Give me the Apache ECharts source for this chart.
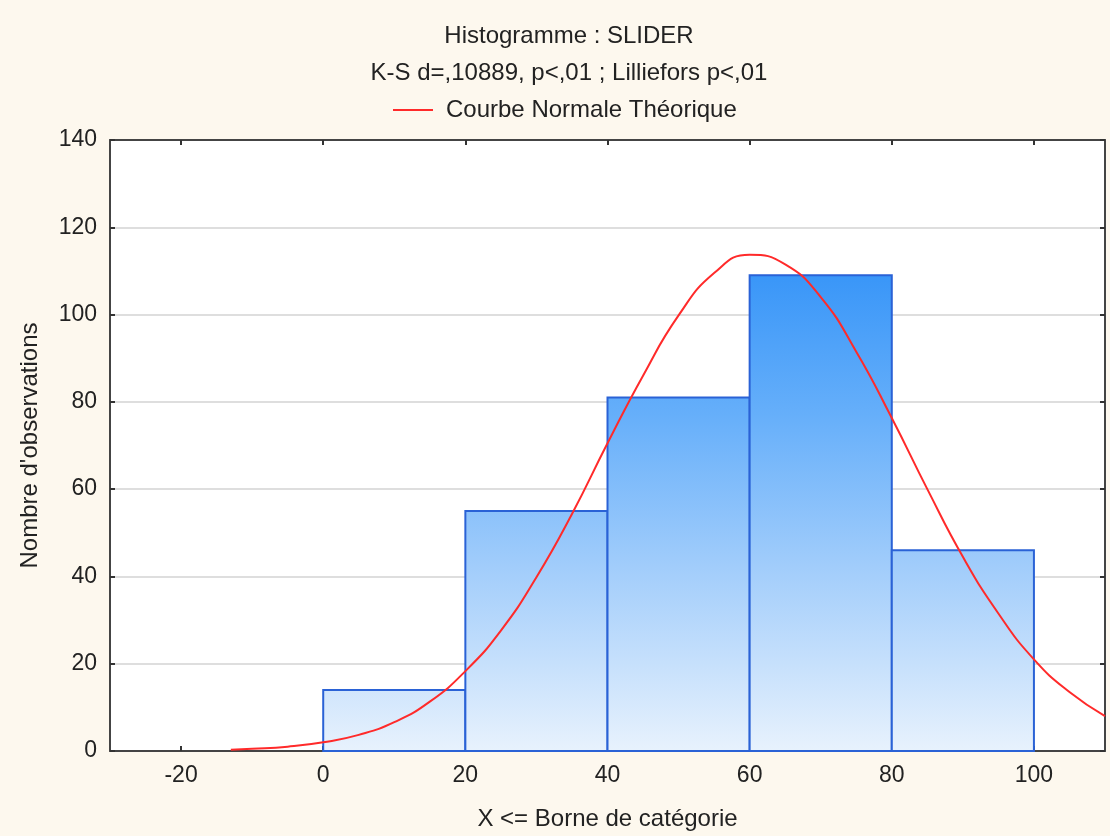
<!DOCTYPE html>
<html><head><meta charset="utf-8">
<script src="https://cdn.jsdelivr.net/npm/echarts@6/dist/echarts.min.js"></script>
<style>html,body{margin:0;padding:0;background:#fdf8ee;}#c{width:1110px;height:836px;}</style>
</head><body><div id="c"></div>
<script>
// Histogram bins (lower edge, upper edge) and counts
const binStart = [0, 20, 40, 60, 80];
const binEnd = [20, 40, 60, 80, 100];
const counts = [14, 55, 81, 109, 46];
// Theoretical normal curve
const curveX = [-13, -10, -5, 0, 5, 10, 15, 20, 25, 30, 35, 40, 45, 50, 55, 60, 65, 70, 75, 80, 85, 90, 95, 100, 105, 110];
const curveY = [0.3, 0.5, 1.0, 2.0, 3.7, 6.6, 11.3, 18.3, 27.6, 39.8, 54.3, 70.5, 86, 99.8, 109.5, 113.7, 111.5, 104, 91.5, 76.3, 60, 44.5, 31.5, 21, 13.5, 8];
const xTicks = [-20, 0, 20, 40, 60, 80, 100];
const titleText = 'Histogramme : SLIDER';
const subText = 'K-S d=,10889, p<,01 ; Lilliefors p<,01';
const legendName = 'Courbe Normale Théorique';

const font = 'Liberation Sans, Arial, sans-serif';
const txt = '#222';
const chart = echarts.init(document.getElementById('c'));
const barGrad = new echarts.graphic.LinearGradient(0, 140, 0, 752, [
  {offset: 0, color: '#2b8bf6'},
  {offset: 0.22, color: '#3996f8'},
  {offset: 0.45, color: '#66affa'},
  {offset: 0.7, color: '#a2cdfb'},
  {offset: 1, color: '#e8f2fd'}
], true);

const histData = binStart.map((s, i) => [s, binEnd[i], counts[i]]);
const curveData = curveX.map((x, i) => [x, curveY[i]]);
const axLine = {show: true, onZero: false, lineStyle: {color: '#444', width: 2}};
const tick = {show: true, inside: true, length: 5, lineStyle: {color: '#333', width: 2}};

chart.setOption({
  backgroundColor: '#fdf8ee',
  animation: false,
  textStyle: {fontFamily: font},
  title: [
    {text: titleText, left: 564, textAlign: 'center', top: 19, textStyle: {fontSize: 24, fontWeight: 'normal', color: txt, fontFamily: font}},
    {text: subText, left: 564, textAlign: 'center', top: 56, textStyle: {fontSize: 24, fontWeight: 'normal', color: txt, fontFamily: font}}
  ],
  legend: {
    top: 98, left: 393, itemWidth: 40, itemHeight: 2, icon: 'rect',
    textStyle: {fontSize: 24, color: txt, fontFamily: font, padding: [0, 0, 0, 8]},
    padding: 0,
    data: [legendName]
  },
  grid: {left: 110, right: 5, top: 140, bottom: 84, show: true, backgroundColor: '#ffffff', borderWidth: 0},
  xAxis: [{
    type: 'value', min: -30, max: 110, position: 'bottom',
    name: 'X <= Borne de catégorie', nameLocation: 'middle', nameGap: 56,
    nameTextStyle: {fontSize: 24, color: txt, fontFamily: font},
    axisLine: axLine,
    axisTick: Object.assign({customValues: xTicks}, tick),
    axisLabel: {customValues: xTicks, fontSize: 23, color: txt, margin: 13, fontFamily: font},
    splitLine: {show: false}
  }, {
    type: 'value', min: -30, max: 110, position: 'top',
    axisLine: axLine,
    axisTick: Object.assign({customValues: xTicks}, tick),
    axisLabel: {show: false},
    splitLine: {show: false}
  }],
  yAxis: [{
    type: 'value', min: 0, max: 140, interval: 20, position: 'left',
    name: "Nombre d'observations", nameLocation: 'middle', nameGap: 68,
    nameTextStyle: {fontSize: 24, color: txt, fontFamily: font},
    axisLine: axLine,
    axisTick: tick,
    axisLabel: {fontSize: 23, color: txt, margin: 13, fontFamily: font},
    splitLine: {show: true, lineStyle: {color: '#dedede', width: 2}}
  }, {
    type: 'value', min: 0, max: 140, interval: 20, position: 'right',
    axisLine: axLine,
    axisTick: tick,
    axisLabel: {show: false},
    splitLine: {show: false}
  }],
  series: [{
    type: 'custom', name: 'hist', xAxisIndex: 0, yAxisIndex: 0,
    encode: {x: [0, 1], y: 2},
    data: histData,
    renderItem: function (params, api) {
      const p0 = api.coord([api.value(0), api.value(2)]);
      const p1 = api.coord([api.value(1), 0]);
      return {type: 'rect', shape: {x: p0[0], y: p0[1], width: p1[0] - p0[0], height: p1[1] - p0[1]},
        style: {fill: barGrad, stroke: '#2a62d6', lineWidth: 2}};
    },
    z: 2
  }, {
    type: 'line', name: legendName, xAxisIndex: 0, yAxisIndex: 0,
    data: curveData, smooth: true, symbol: 'none',
    lineStyle: {color: '#ff2a2a', width: 2}, itemStyle: {color: '#ff2a2a'},
    z: 3
  }]
});
</script></body></html>
